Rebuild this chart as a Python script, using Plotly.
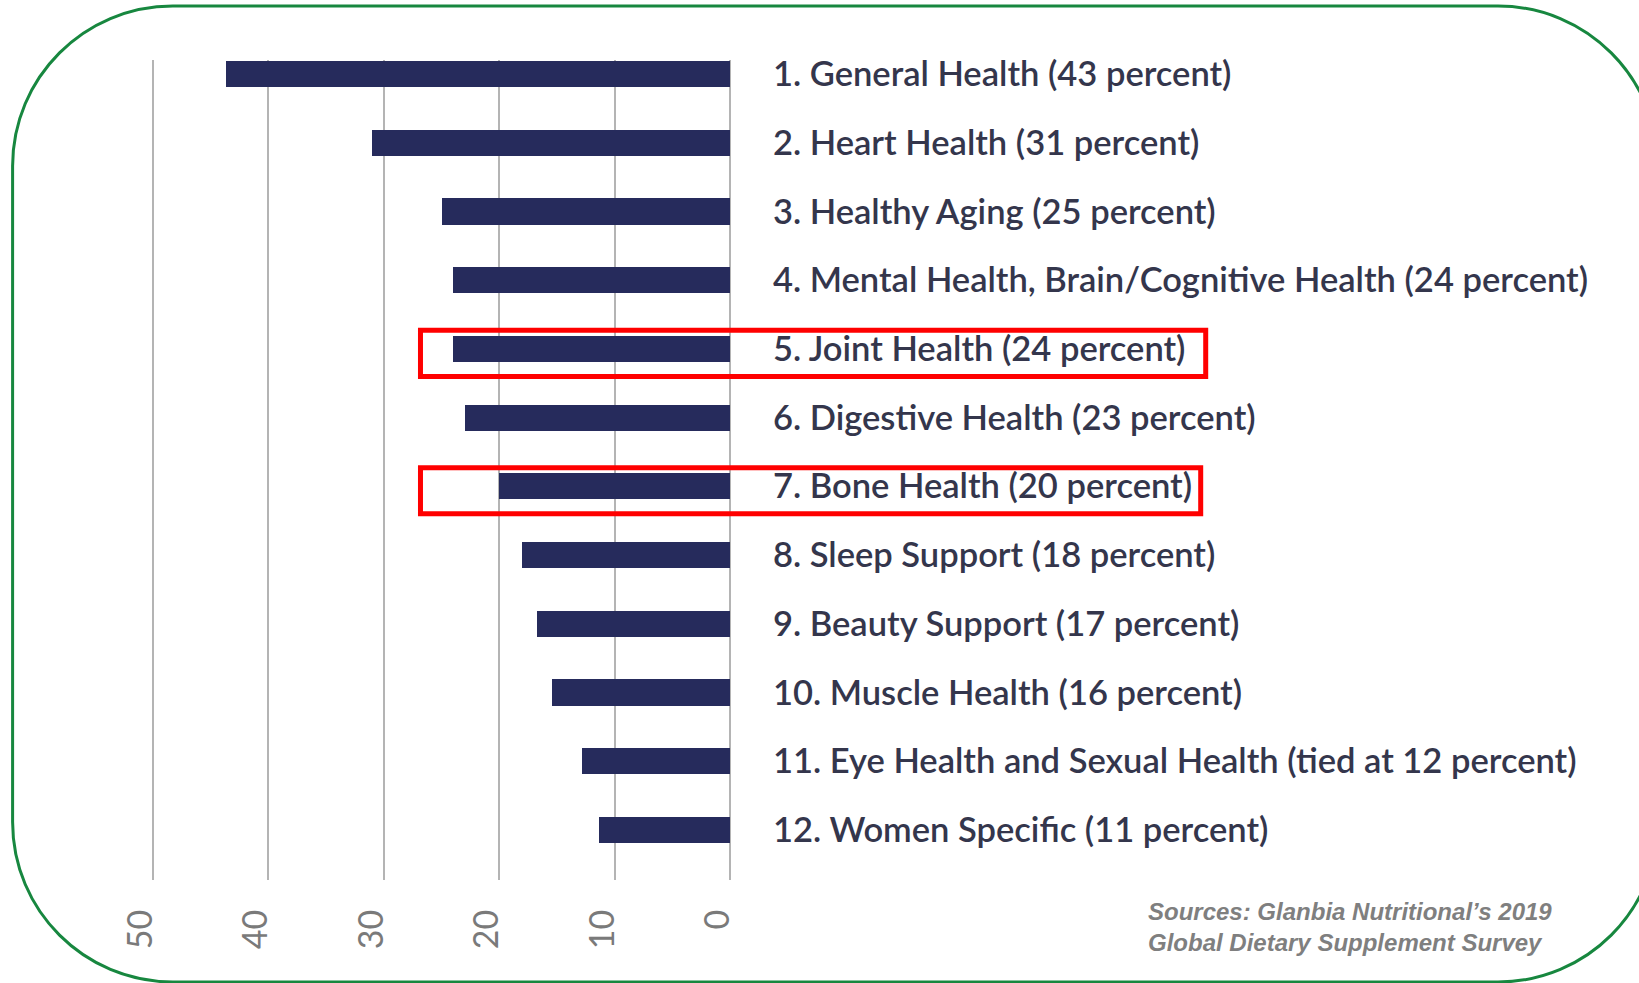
import plotly.graph_objects as go

# ---------------- data ----------------
labels = [
    "1. General Health (43 percent)",
    "2. Heart Health (31 percent)",
    "3. Healthy Aging (25 percent)",
    "4. Mental Health, Brain/Cognitive Health (24 percent)",
    "5. Joint Health (24 percent)",
    "6. Digestive Health (23 percent)",
    "7. Bone Health (20 percent)",
    "8. Sleep Support (18 percent)",
    "9. Beauty Support (17 percent)",
    "10. Muscle Health (16 percent)",
    "11. Eye Health and Sexual Health (tied at 12 percent)",
    "12. Women Specific (11 percent)",
]
values = [43.7, 31, 25, 24, 24, 23, 20, 18, 16.7, 15.4, 12.8, 11.4]
x_ticks = [50, 40, 30, 20, 10, 0]
highlighted = ["5. Joint Health (24 percent)", "7. Bone Health (20 percent)"]
source_lines = ["Sources: Glanbia Nutritional’s 2019", "Global Dietary Supplement Survey"]

# ---------------- layout geometry (pixels) ----------------
W, H = 1639, 983
x50_px, x0_px = 153, 730
unit = (x0_px - x50_px) / 50.0
pad = 0.15
L = x50_px - pad * unit
PW = (50 + 2 * pad) * unit
R = W - L - PW
T, BOT = 60, 880
PH = BOT - T
first_c, last_c = 74, 830
step = (last_c - first_c) / (len(labels) - 1)
y_range = [len(labels) - 1 + (BOT - last_c) / step, -(first_c - T) / step]


def px_x(px):
    return (px - L) / PW


def px_y(py):
    return 1 - (py - T) / PH


fig = go.Figure()
fig.add_trace(go.Bar(
    x=values, y=labels, orientation="h",
    marker=dict(color="#262b5c", line=dict(width=0)),
    width=0.38, hoverinfo="skip",
))

shapes = []
# highlight boxes
box_right_px = {highlighted[0]: 1205, highlighted[1]: 1200}
for lab in highlighted:
    idx = labels.index(lab)
    shapes.append(dict(
        type="rect", xref="paper", yref="y",
        x0=px_x(420.5), x1=px_x(box_right_px[lab]),
        y0=idx - 0.27, y1=idx + 0.40,
        line=dict(color="#ff0000", width=5), fillcolor="rgba(0,0,0,0)",
        layer="above",
    ))

# rounded green frame
fl, ft, fr, fb, r = 13, 6, 1657, 982, 160
k = 0.5523 * r


def P(x, y):
    return f"{px_x(x):.5f},{px_y(y):.5f}"


path = (
    f"M {P(fl + r, ft)} L {P(fr - r, ft)} "
    f"C {P(fr - r + k, ft)} {P(fr, ft + r - k)} {P(fr, ft + r)} "
    f"L {P(fr, fb - r)} "
    f"C {P(fr, fb - r + k)} {P(fr - r + k, fb)} {P(fr - r, fb)} "
    f"L {P(fl + r, fb)} "
    f"C {P(fl + r - k, fb)} {P(fl, fb - r + k)} {P(fl, fb - r)} "
    f"L {P(fl, ft + r)} "
    f"C {P(fl, ft + r - k)} {P(fl + r - k, ft)} {P(fl + r, ft)} Z"
)
shapes.append(dict(type="path", xref="paper", yref="paper", path=path,
                   line=dict(color="#17873f", width=3), layer="above"))

fig.update_layout(
    width=W, height=H,
    margin=dict(l=L, r=R, t=T, b=H - BOT, pad=0),
    paper_bgcolor="white", plot_bgcolor="white",
    showlegend=False,
    bargap=0,
    shapes=shapes,
    annotations=[dict(
        text="<br>".join(source_lines), xref="paper", yref="paper",
        x=px_x(1145), y=px_y(927), xanchor="left", yanchor="middle",
        align="left", showarrow=False,
        font=dict(family="Liberation Sans, Arial", size=24, color="#7f7f7f",
                  weight="bold", style="italic"),
    )],
    xaxis=dict(
        range=[50 + pad, -pad], tickvals=x_ticks, ticktext=[str(v) for v in x_ticks],
        tickangle=-90, ticks="", showline=False,
        showgrid=True, gridcolor="#b4b4b4", gridwidth=2,
        zeroline=True, zerolinecolor="#b4b4b4", zerolinewidth=2,
        tickfont=dict(family="Lato", size=34, color="#7a7a7a", weight=400),
        ticklabelstandoff=22, ticklabelshift=12,
        fixedrange=True,
    ),
    yaxis=dict(
        type="category", categoryorder="array", categoryarray=labels,
        range=y_range, side="right", ticks="", showgrid=False, zeroline=False,
        showline=False,
        tickfont=dict(family="Lato", size=34.5, color="#34364c", weight=600),
        ticklabelstandoff=40, fixedrange=True,
    ),
)

fig.write_html("out.html", config={"displayModeBar": False},
               post_script="document.body.style.margin='0';")
